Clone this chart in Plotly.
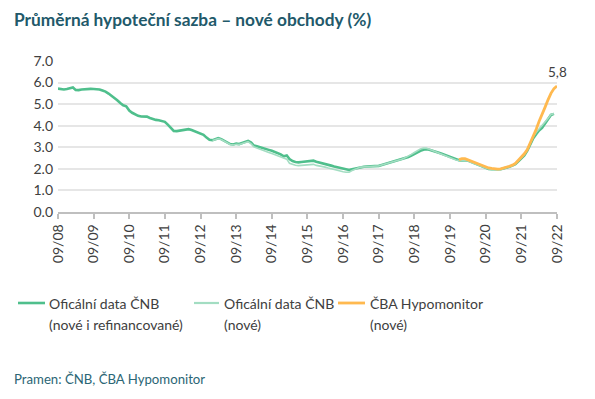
import plotly.graph_objects as go
import pandas as pd

# Oficiální data ČNB (nové i refinancované), monthly 09/2008 - 08/2022
cnb_all = [
    5.72, 5.70, 5.68, 5.70,                                                  # 2008 09-12
    5.74, 5.77, 5.66, 5.65, 5.68, 5.70, 5.72, 5.71, 5.70, 5.70, 5.68, 5.63,  # 2009
    5.58, 5.49, 5.40, 5.30, 5.18, 5.05, 4.95, 4.90, 4.70, 4.60, 4.52, 4.46,  # 2010
    4.43, 4.41, 4.42, 4.36, 4.30, 4.27, 4.25, 4.22, 4.18, 4.05, 3.88, 3.76,  # 2011
    3.75, 3.78, 3.80, 3.82, 3.84, 3.80, 3.75, 3.70, 3.66, 3.58, 3.45, 3.35,  # 2012
    3.33, 3.38, 3.42, 3.38, 3.30, 3.22, 3.15, 3.13, 3.17, 3.15, 3.20, 3.22,  # 2013
    3.30, 3.22, 3.08, 3.05, 3.00, 2.96, 2.92, 2.88, 2.84, 2.79, 2.72, 2.67,  # 2014
    2.58, 2.62, 2.45, 2.36, 2.32, 2.30, 2.32, 2.34, 2.33, 2.35, 2.38, 2.33,  # 2015
    2.30, 2.27, 2.22, 2.18, 2.15, 2.11, 2.08, 2.05, 2.01, 1.97, 1.95, 1.98,  # 2016
    2.02, 2.05, 2.08, 2.10, 2.11, 2.11, 2.12, 2.12, 2.14, 2.18, 2.22, 2.27,  # 2017
    2.30, 2.35, 2.38, 2.40, 2.44, 2.50, 2.55, 2.62, 2.70, 2.78, 2.84, 2.89,  # 2018
    2.91, 2.89, 2.86, 2.81, 2.76, 2.71, 2.66, 2.58, 2.52, 2.47, 2.42, 2.40,  # 2019
    2.38, 2.40, 2.38, 2.32, 2.26, 2.20, 2.14, 2.10, 2.05, 2.00, 1.98, 1.97,  # 2020
    1.97, 1.98, 2.02, 2.05, 2.10, 2.15, 2.22, 2.35, 2.50, 2.62, 2.85, 3.15,  # 2021
    3.42, 3.62, 3.78, 3.90, 4.10, 4.30, 4.50, 4.55,                          # 2022 01-08
]

# Oficiální data ČNB (nové), monthly 01/2013 - 08/2022
cnb_new = [
    3.31, 3.36, 3.40, 3.36, 3.28, 3.20, 3.13, 3.11, 3.14, 3.13, 3.17, 3.19,  # 2013
    3.26, 3.16, 3.02, 2.97, 2.91, 2.86, 2.81, 2.76, 2.71, 2.66, 2.59, 2.54,  # 2014
    2.47, 2.45, 2.26, 2.20, 2.17, 2.15, 2.16, 2.18, 2.17, 2.19, 2.21, 2.16,  # 2015
    2.14, 2.12, 2.08, 2.04, 2.00, 1.96, 1.93, 1.90, 1.87, 1.84, 1.85, 1.92,  # 2016
    1.99, 2.04, 2.08, 2.10, 2.11, 2.11, 2.12, 2.12, 2.14, 2.18, 2.22, 2.28,  # 2017
    2.31, 2.36, 2.39, 2.42, 2.46, 2.53, 2.59, 2.67, 2.76, 2.85, 2.92, 2.96,  # 2018
    2.96, 2.91, 2.86, 2.80, 2.75, 2.70, 2.65, 2.57, 2.51, 2.46, 2.41, 2.39,  # 2019
    2.37, 2.39, 2.37, 2.31, 2.25, 2.19, 2.13, 2.09, 2.04, 1.99, 1.97, 1.96,  # 2020
    1.96, 1.97, 2.01, 2.04, 2.09, 2.15, 2.23, 2.37, 2.53, 2.66, 2.90, 3.22,  # 2021
    3.50, 3.70, 3.85, 3.97, 4.15, 4.34, 4.52, 4.56,                          # 2022 01-08
]

# ČBA Hypomonitor (nové), monthly 12/2019 - 09/2022
cba = [
    2.43,                                                                    # 2019 12
    2.47, 2.47, 2.42, 2.36, 2.30, 2.24, 2.18, 2.12, 2.07, 2.04, 2.02, 2.00,  # 2020
    1.99, 2.00, 2.03, 2.07, 2.12, 2.17, 2.25, 2.40, 2.55, 2.70, 2.90, 3.20,  # 2021
    3.50, 3.85, 4.20, 4.50, 4.85, 5.20, 5.50, 5.72, 5.84,                    # 2022 01-09
]

series_names = [("Oficální data ČNB", "(nové i refinancované)"),
                ("Oficální data ČNB", "(nové)"),
                ("ČBA Hypomonitor", "(nové)")]
series_colors = ["#4fbf8c", "#a3ddc2", "#ffb94f"]
series_widths = [2.6, 1.6, 2.8]

tick_dates = [f"20{y:02d}-09-01" for y in range(8, 23)]
tick_labels = [f"09/{y:02d}" for y in range(8, 23)]
y_ticks = [0, 1, 2, 3, 4, 5, 6, 7]
y_labels = [f"{v:.1f}" for v in y_ticks]

x_all = pd.date_range("2008-09-01", periods=len(cnb_all), freq="MS")
x_new = pd.date_range("2013-01-01", periods=len(cnb_new), freq="MS")
x_cba = pd.date_range("2019-12-01", periods=len(cba), freq="MS")

FONT = "Lato"
fig = go.Figure()
for xs, ys, nm, col, w in zip([x_all, x_new, x_cba], [cnb_all, cnb_new, cba],
                              series_names, series_colors, series_widths):
    fig.add_trace(go.Scatter(x=xs, y=ys, mode="lines", name=" ".join(nm),
                             line=dict(color=col, width=w), showlegend=False))

fig.add_annotation(x=x_cba[-1], y=cba[-1], text=f"{cba[-1]:.1f}".replace(".", ","),
                   showarrow=False, yshift=14, font=dict(family=FONT, size=13.5, color="#404040"))

# ---- manual legend (screen px of the plot area: left 58, width 499, bottom 212, height 151)
PL, PW, PB, PH = 58, 499, 212, 151
def px(X):
    return (X - PL) / PW
def py(Y):
    return (PB - Y) / PH

leg_sample_x = [(18, 45), (194, 219), (338, 365)]
leg_text_x = [47, 222, 368]
leg_row_y = [303, 324]
for (x0, x1), tx, nm, col, w in zip(leg_sample_x, leg_text_x, series_names, series_colors, series_widths):
    fig.add_shape(type="line", xref="paper", yref="paper",
                  x0=px(x0), x1=px(x1), y0=py(leg_row_y[0]), y1=py(leg_row_y[0]),
                  line=dict(color=col, width=max(w, 2.2)))
    for line_text, ry in zip(nm, leg_row_y):
        fig.add_annotation(xref="paper", yref="paper", x=px(tx), y=py(ry),
                           xanchor="left", yanchor="middle", text=line_text, showarrow=False,
                           font=dict(family=FONT, size=14, color="#404040"))

fig.add_annotation(xref="paper", yref="paper", x=px(12), y=py(379), xanchor="left", yanchor="middle",
                   text="Pramen: ČNB, ČBA Hypomonitor", showarrow=False,
                   font=dict(family=FONT, size=13.2, color="#2b6675"))

fig.update_layout(
    width=595, height=399,
    margin=dict(l=50, r=46, t=53, b=195),
    paper_bgcolor="white", plot_bgcolor="white",
    title=dict(text="<b>Průměrná hypoteční sazba – nové obchody (%)</b>",
               x=6/595, xanchor="left", xref="container",
               y=1-12/399, yanchor="middle", yref="container",
               font=dict(family=FONT, size=17.3, color="#22596a")),
    showlegend=False,
    font=dict(family=FONT),
)
fig.update_xaxes(type="date", range=["2008-09-01", "2022-09-01"],
                 tickvals=tick_dates, ticktext=tick_labels, tickangle=-90,
                 showgrid=False, showline=True, linecolor="#bfbfbf", linewidth=1.5,
                 ticks="outside", ticklen=5, tickcolor="#bfbfbf", tickwidth=1.5,
                 tickfont=dict(family=FONT, size=14, color="#404040"))
fig.update_yaxes(range=[0, 7], tickvals=y_ticks, ticktext=y_labels,
                 showgrid=True, gridcolor="#e6e6e6", gridwidth=2, zeroline=False,
                 showline=False, ticks="", ticklabelstandoff=4,
                 tickfont=dict(family=FONT, size=14, color="#404040"))

fig.write_html("out.html")
